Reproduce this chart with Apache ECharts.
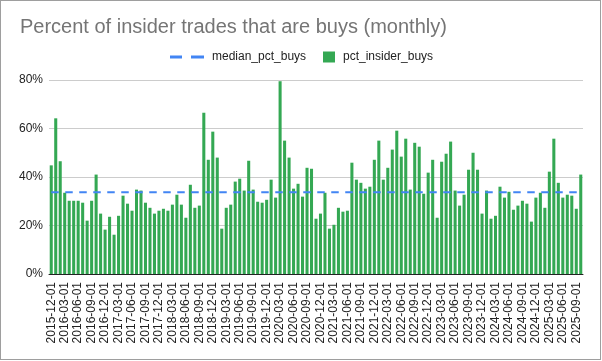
<!DOCTYPE html>
<html>
<head>
<meta charset="utf-8">
<script src="https://cdn.jsdelivr.net/npm/echarts@6/dist/echarts.min.js"></script>
<style>
html,body{margin:0;padding:0;background:#fff;}
#c{position:absolute;left:0;top:0;width:602px;height:361px;}
#b{position:absolute;left:0;top:0;width:601px;height:360px;box-sizing:border-box;border:1px solid #9e9e9e;pointer-events:none;}
</style>
</head>
<body>
<div id="c"></div>
<div id="b"></div>
<script>
// ---- data ----
const startYear = 2015;
const startMonth = 12;
const pctInsiderBuys = [
  44.8, 64.2, 46.5, 33.5, 30.2, 30.2, 30.2, 29.4, 22.0, 30.2,
  41.0, 24.9, 18.3, 23.6, 16.2, 24.0, 32.3, 29.0, 26.1, 34.8,
  34.4, 29.4, 27.3, 24.9, 26.1, 26.9, 26.1, 28.6, 32.7, 28.6,
  23.2, 36.8, 27.3, 28.2, 66.5, 47.1, 58.7, 48.0, 18.7, 27.3,
  28.6, 38.1, 39.3, 34.4, 46.7, 34.8, 29.8, 29.4, 30.6, 38.9,
  31.5, 79.5, 55.0, 48.0, 35.2, 37.2, 31.9, 43.8, 43.4, 22.8,
  24.9, 33.5, 18.7, 20.3, 27.3, 25.7, 26.1, 45.9, 38.9, 37.6,
  35.2, 36.0, 47.1, 55.0, 38.9, 43.8, 51.3, 59.1, 48.4, 55.8,
  34.8, 54.1, 52.5, 33.1, 41.8, 47.1, 23.2, 46.3, 49.6, 54.6,
  34.4, 28.2, 32.7, 43.0, 50.0, 43.0, 24.9, 34.4, 22.8, 24.0,
  36.0, 31.5, 33.9, 26.5, 28.2, 30.2, 29.0, 21.6, 31.5, 33.5,
  27.3, 42.2, 55.8, 37.6, 31.5, 32.7, 32.3, 26.9, 41.0
];
const medianPctBuys = 33.7;
const yTicks = [0, 20, 40, 60, 80];

// categories: first day of each month
const categories = [];
for (let i = 0; i < pctInsiderBuys.length; i++) {
  const m0 = (startMonth - 1) + i;
  const y = startYear + Math.floor(m0 / 12);
  const m = (m0 % 12) + 1;
  categories.push(y + '-' + String(m).padStart(2, '0') + '-01');
}
const medianSeries = categories.map(() => medianPctBuys);

const FONT = 'Arial, "Liberation Sans", sans-serif';
const chart = echarts.init(document.getElementById('c'), null, {renderer: 'canvas'});
chart.setOption({
  animation: false,
  title: {
    text: 'Percent of insider trades that are buys (monthly)',
    left: 20, top: 17, padding: 0,
    textStyle: {fontFamily: FONT, fontSize: 20, fontWeight: 'normal', color: '#757575'}
  },
  legend: [
    {
      data: [{name: 'median_pct_buys', icon: 'path://M0,0H12V3H0Z M21,0H34V3H21Z'}],
      left: 170, top: 51, padding: 0,
      itemWidth: 34, itemHeight: 3,
      itemStyle: {color: '#4285f4', borderWidth: 0},
      lineStyle: {width: 0, opacity: 0},
      textStyle: {fontFamily: FONT, fontSize: 12, color: '#222', padding: [0, 0, 0, 3]}
    },
    {
      data: ['pct_insider_buys'],
      left: 323, top: 51, padding: 0,
      itemWidth: 12, itemHeight: 11,
      icon: 'rect',
      textStyle: {fontFamily: FONT, fontSize: 12, color: '#222', padding: [0, 0, 0, 3]}
    }
  ],
  grid: {left: 49, right: 19, top: 80, bottom: 87, containLabel: false},
  xAxis: {
    type: 'category',
    data: categories,
    boundaryGap: true,
    axisLine: {show: true, lineStyle: {color: '#222', width: 1}},
    axisTick: {show: false},
    axisLabel: {
      interval: 2, rotate: 90, margin: 8,
      fontFamily: FONT, fontSize: 12, color: '#222'
    },
    splitLine: {show: false}
  },
  yAxis: {
    type: 'value',
    min: yTicks[0], max: yTicks[yTicks.length - 1], interval: 20,
    axisLine: {show: false},
    axisTick: {show: false},
    axisLabel: {formatter: '{value}%', margin: 6, fontFamily: FONT, fontSize: 12, color: '#222'},
    splitLine: {show: true, lineStyle: {color: '#cccccc', width: 1}}
  },
  series: [
    {
      name: 'pct_insider_buys',
      type: 'bar',
      data: pctInsiderBuys,
      barCategoryGap: '32%',
      itemStyle: {color: '#34a853'},
      z: 2
    },
    {
      name: 'median_pct_buys',
      type: 'line',
      data: medianSeries,
      symbol: 'none',
      showSymbol: false,
      lineStyle: {color: '#4285f4', width: 2, type: [7.5, 6.5]},
      itemStyle: {color: '#4285f4'},
      z: 3
    }
  ]
});
</script>
</body>
</html>
